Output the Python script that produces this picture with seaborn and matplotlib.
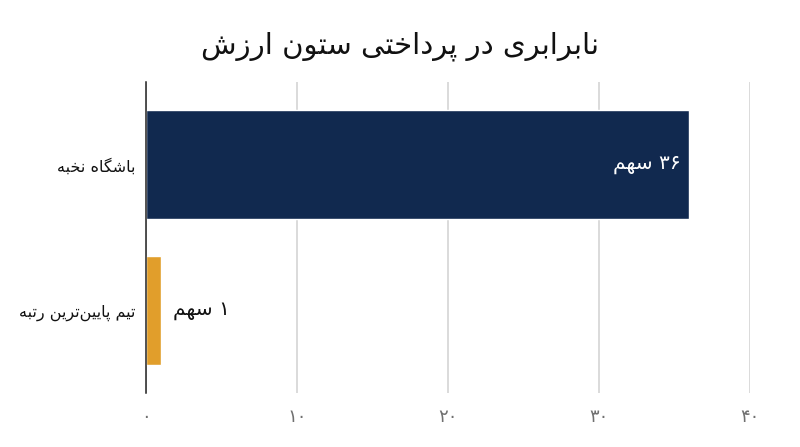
import matplotlib
matplotlib.use("Agg")
import matplotlib.pyplot as plt
import seaborn as sns
import pandas as pd

# data
title = "نابرابری در پرداختی ستون ارزش"
categories = ["باشگاه نخبه", "تیم پایین‌ترین رتبه"]
values = [36, 1]
unit = "سهم"
xticks = [0, 10, 20, 30, 40]
bar_colors = ["#11294f", "#e19e2b"]

# matplotlib has no arabic shaping, so do it by hand
FORMS = {
    "ا": ("\uFE8D", "\uFE8E"), "د": ("\uFEA9", "\uFEAA"), "ر": ("\uFEAD", "\uFEAE"),
    "ز": ("\uFEAF", "\uFEB0"), "و": ("\uFEED", "\uFEEE"),
    "ب": ("\uFE8F", "\uFE90", "\uFE91", "\uFE92"), "پ": ("\uFB56", "\uFB57", "\uFB58", "\uFB59"),
    "ت": ("\uFE95", "\uFE96", "\uFE97", "\uFE98"), "خ": ("\uFEA5", "\uFEA6", "\uFEA7", "\uFEA8"),
    "س": ("\uFEB1", "\uFEB2", "\uFEB3", "\uFEB4"), "ش": ("\uFEB5", "\uFEB6", "\uFEB7", "\uFEB8"),
    "گ": ("\uFB92", "\uFB93", "\uFB94", "\uFB95"), "ه": ("\uFEE9", "\uFEEA", "\uFEEB", "\uFEEC"),
    "م": ("\uFEE1", "\uFEE2", "\uFEE3", "\uFEE4"), "ن": ("\uFEE5", "\uFEE6", "\uFEE7", "\uFEE8"),
    "ی": ("\uFBFC", "\uFBFD", "\uFBFE", "\uFBFF"),
}


def rtl(s):
    out = []
    for i, c in enumerate(s):
        if c not in FORMS:
            if c != "\u200c":
                out.append(c)
            continue
        f = FORMS[c]
        prev = s[i - 1] if i > 0 else ""
        nxt = s[i + 1] if i + 1 < len(s) else ""
        pj = prev in FORMS and len(FORMS[prev]) == 4
        nj = len(f) == 4 and nxt in FORMS
        if pj and nj:
            out.append(f[3])
        elif pj:
            out.append(f[1])
        elif nj:
            out.append(f[2])
        else:
            out.append(f[0])
    return "".join(reversed(out))


def fa(n):
    return str(n).translate(str.maketrans("0123456789", "۰۱۲۳۴۵۶۷۸۹"))


df = pd.DataFrame({"cat": [rtl(c) for c in categories], "val": values})

sns.set_theme(style="white")
plt.rcParams["font.family"] = ["DejaVu Sans"]

fig = plt.figure(figsize=(8, 4.47), dpi=100)
ax = fig.add_axes([0.183, 0.1215, 0.754, 0.695])

sns.barplot(data=df, y="cat", x="val", hue="cat", palette=bar_colors,
            orient="h", width=0.75, legend=False, ax=ax, saturation=1)

ax.set_xlim(0, 40)
ax.set_ylim(1.565, -0.565)
ax.set_xticks(xticks)
ax.set_xticklabels([fa(t) for t in xticks], color="#707070", fontsize=13)
ax.tick_params(axis="y", labelsize=11.5, labelcolor="#111111", pad=8, length=0)
ax.tick_params(axis="x", pad=11, length=0)
ax.grid(axis="x", color="#d4d4d4", linewidth=1.2)
ax.set_axisbelow(True)
for side in ["top", "right", "bottom"]:
    ax.spines[side].set_visible(False)
ax.spines["left"].set_color("#222222")
ax.spines["left"].set_linewidth(1.1)
ax.set_xlabel("")
ax.set_ylabel("")

for i, v in enumerate(values):
    lab = rtl(unit) + " " + fa(v)
    if v > 5:
        ax.text(v - 0.55, i, lab, ha="right", va="center", color="white", fontsize=14.5)
    else:
        ax.text(v + 0.75, i, lab, ha="left", va="center", color="#111111", fontsize=14.5)

fig.suptitle(rtl(title), y=0.93, fontsize=21, color="#111111")

fig.savefig("out.png", dpi=100)
